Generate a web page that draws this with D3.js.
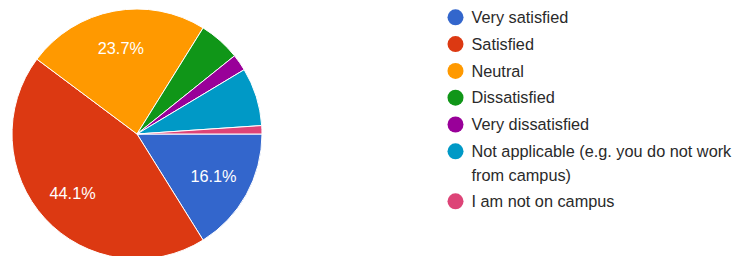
<!DOCTYPE html>
<html>
<head>
<meta charset="utf-8">
<script src="https://cdn.jsdelivr.net/npm/d3@7"></script>
<style>
  body { margin: 0; background: #fff; }
  svg { display: block; font-family: Arial, "Liberation Sans", sans-serif; }
</style>
</head>
<body>
<div id="wrapper"></div>
<script>
// survey answers (counts out of 93 responses)
const categories = [
  "Very satisfied",
  "Satisfied",
  "Neutral",
  "Dissatisfied",
  "Very dissatisfied",
  "Not applicable (e.g. you do not work from campus)",
  "I am not on campus",
]
const counts = [15, 41, 22, 5, 2, 7, 1]
const colors = ["#3366cc", "#dc3912", "#ff9900", "#109618", "#990099", "#0099c6", "#dd4477"]

const dimensions = {
  width: 740,
  height: 256,
  cx: 137,
  cy: 134,
  radius: 125,
}

const data = categories.map((c, i) => ({ label: c, value: counts[i], color: colors[i] }))
const total = d3.sum(counts)

const svg = d3.select("#wrapper")
  .append("svg")
    .attr("width", dimensions.width)
    .attr("height", dimensions.height)

const pieGen = d3.pie()
  .value(d => d.value)
  .sort(null)
  .startAngle(Math.PI / 2)
  .endAngle(Math.PI / 2 + 2 * Math.PI)

const arcGen = d3.arc()
  .innerRadius(0)
  .outerRadius(dimensions.radius)

const labelArc = d3.arc()
  .innerRadius(dimensions.radius * 0.7)
  .outerRadius(dimensions.radius * 0.7)

const pie = svg.append("g")
  .attr("transform", `translate(${dimensions.cx},${dimensions.cy})`)

const arcs = pieGen(data)

pie.selectAll("path")
  .data(arcs)
  .join("path")
    .attr("d", arcGen)
    .attr("fill", d => d.data.color)
    .attr("stroke", "#fff")
    .attr("stroke-width", 1)

// only the bigger slices get a percent label
pie.selectAll("text")
  .data(arcs.filter(d => d.data.value / total > 0.1))
  .join("text")
    .attr("transform", d => `translate(${labelArc.centroid(d)})`)
    .attr("text-anchor", "middle")
    .attr("dy", "0.35em")
    .attr("fill", "#fff")
    .style("font-size", "16.3px")
    .text(d => (d.data.value / total * 100).toFixed(1) + "%")

// legend
const legend = svg.append("g")
  .attr("transform", "translate(455.5,17.3)")

let yPos = 0
data.forEach(d => {
  const item = legend.append("g")
    .attr("transform", `translate(0,${yPos})`)
  item.append("circle")
    .attr("r", 8)
    .attr("fill", d.color)
  const text = item.append("text")
    .attr("x", 16)
    .attr("fill", "#2a2a2a")
    .style("font-size", "16.3px")

  // wrap long labels at ~272px
  const words = d.label.split(" ")
  let line = []
  let lineNo = 0
  let tspan = text.append("tspan").attr("x", 16).attr("dy", "0.35em")
  words.forEach(w => {
    line.push(w)
    tspan.text(line.join(" "))
    if (tspan.node().getComputedTextLength() > 272 && line.length > 1) {
      line.pop()
      tspan.text(line.join(" "))
      line = [w]
      lineNo++
      tspan = text.append("tspan").attr("x", 16).attr("y", lineNo * 24.3).attr("dy", "0.35em").text(w)
    }
  })
  yPos += 26.8 + lineNo * 23.2
})
</script>
</body>
</html>
